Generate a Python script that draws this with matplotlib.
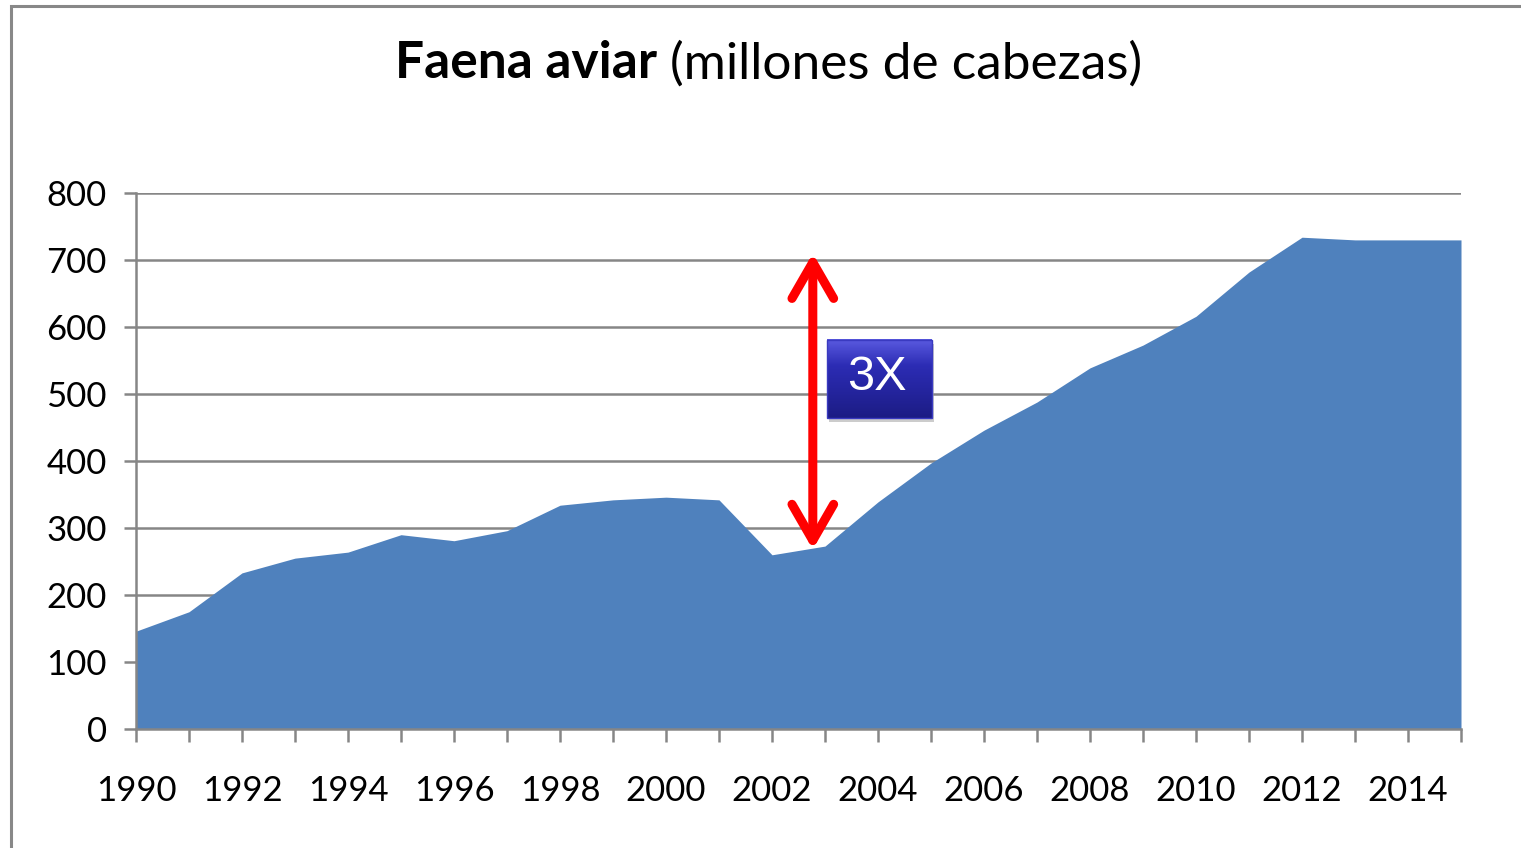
import matplotlib
matplotlib.use("Agg")
import matplotlib.pyplot as plt
import numpy as np
from matplotlib.patches import Rectangle
from matplotlib.colors import LinearSegmentedColormap

years = list(range(1990, 2016))
faena = [146, 175, 233, 255, 264, 290, 281, 296, 334, 342, 346, 342, 260, 273,
         339, 397, 446, 488, 539, 573, 616, 682, 734, 730, 730, 730]
yticks = [0, 100, 200, 300, 400, 500, 600, 700, 800]

plt.rcParams['font.family'] = ['Lato', 'DejaVu Sans']

fig = plt.figure(figsize=(15.21, 8.48), dpi=100)
ax = fig.add_axes([136/1521, 1-729/848, (1461-136)/1521, (729-193)/848])

# figure frame
fig.patches.append(Rectangle((11/1521, -0.1), 1.2, 1-6/848+0.1, transform=fig.transFigure,
                             fill=False, edgecolor='#888888', linewidth=2.2))

ax.fill_between(years, faena, 0, color='#4F81BD', linewidth=0, zorder=2)
ax.set_yticks(yticks)
ax.set_xticks(range(1990, 2016))
ax.set_xticklabels([str(y) if (y % 2 == 0 and y < 2015) else '' for y in range(1990, 2016)])
for y in yticks:
    ax.axhline(y, color='#868686', linewidth=1.8, zorder=1)
for s in ['top', 'right']:
    ax.spines[s].set_visible(False)
for s in ['left', 'bottom']:
    ax.spines[s].set_color('#868686')
    ax.spines[s].set_linewidth(1.8)
    ax.spines[s].set_zorder(3)
ax.tick_params(axis='both', colors='#868686', labelcolor='black', width=1.8, length=9,
               labelsize=25)
ax.tick_params(axis='x', pad=24)
ax.tick_params(axis='y', pad=12)
for lbl in ax.get_yticklabels():
    lbl.set_y(lbl.get_position()[1])

# title
fig.text(657/1521, 1-64/848, 'Faena aviar', ha='right', va='center', fontsize=37,
         fontweight='bold')
fig.text(670/1521, 1-64/848, '(millones de cabezas)', ha='left', va='center', fontsize=37)

# arrow
ax.annotate('', xy=(2002.77, 268), xytext=(2002.77, 710),
            arrowprops=dict(arrowstyle='<->,head_length=2.6,head_width=1.5', color='#FF0000',
                            lw=6.5, capstyle='round', joinstyle='round',
                            shrinkA=0, shrinkB=0), zorder=5)

# 3X box with gradient and shadow
x0, x1, y0, y1 = 2003.04, 2005.02, 464, 581
ax.add_patch(Rectangle((x0 + 0.04, y0 - 6), x1 - x0, y1 - y0, facecolor='#aaaaaa',
                       alpha=0.6, edgecolor='none', zorder=5))
grad = np.linspace(0, 1, 100).reshape(-1, 1)
cmap = LinearSegmentedColormap.from_list('bx', ['#5a5ae0', '#2c2cb4', '#24249e', '#1c1c84'])
ax.imshow(grad, extent=(x0, x1, y0, y1), origin='upper', cmap=cmap, aspect='auto',
          zorder=6)
ax.add_patch(Rectangle((x0, y0), x1 - x0, y1 - y0, fill=False, edgecolor='#3a3ac0',
                       linewidth=1, zorder=7))
ax.text((x0 + x1) / 2 - 0.05, (y0 + y1) / 2 + 2, '3X', ha='center', va='center', color='white',
        fontsize=35, family='Liberation Sans', zorder=8)
ax.set_xlim(1990, 2015)
ax.set_ylim(0, 800)

fig.savefig('out.png', dpi=100)
